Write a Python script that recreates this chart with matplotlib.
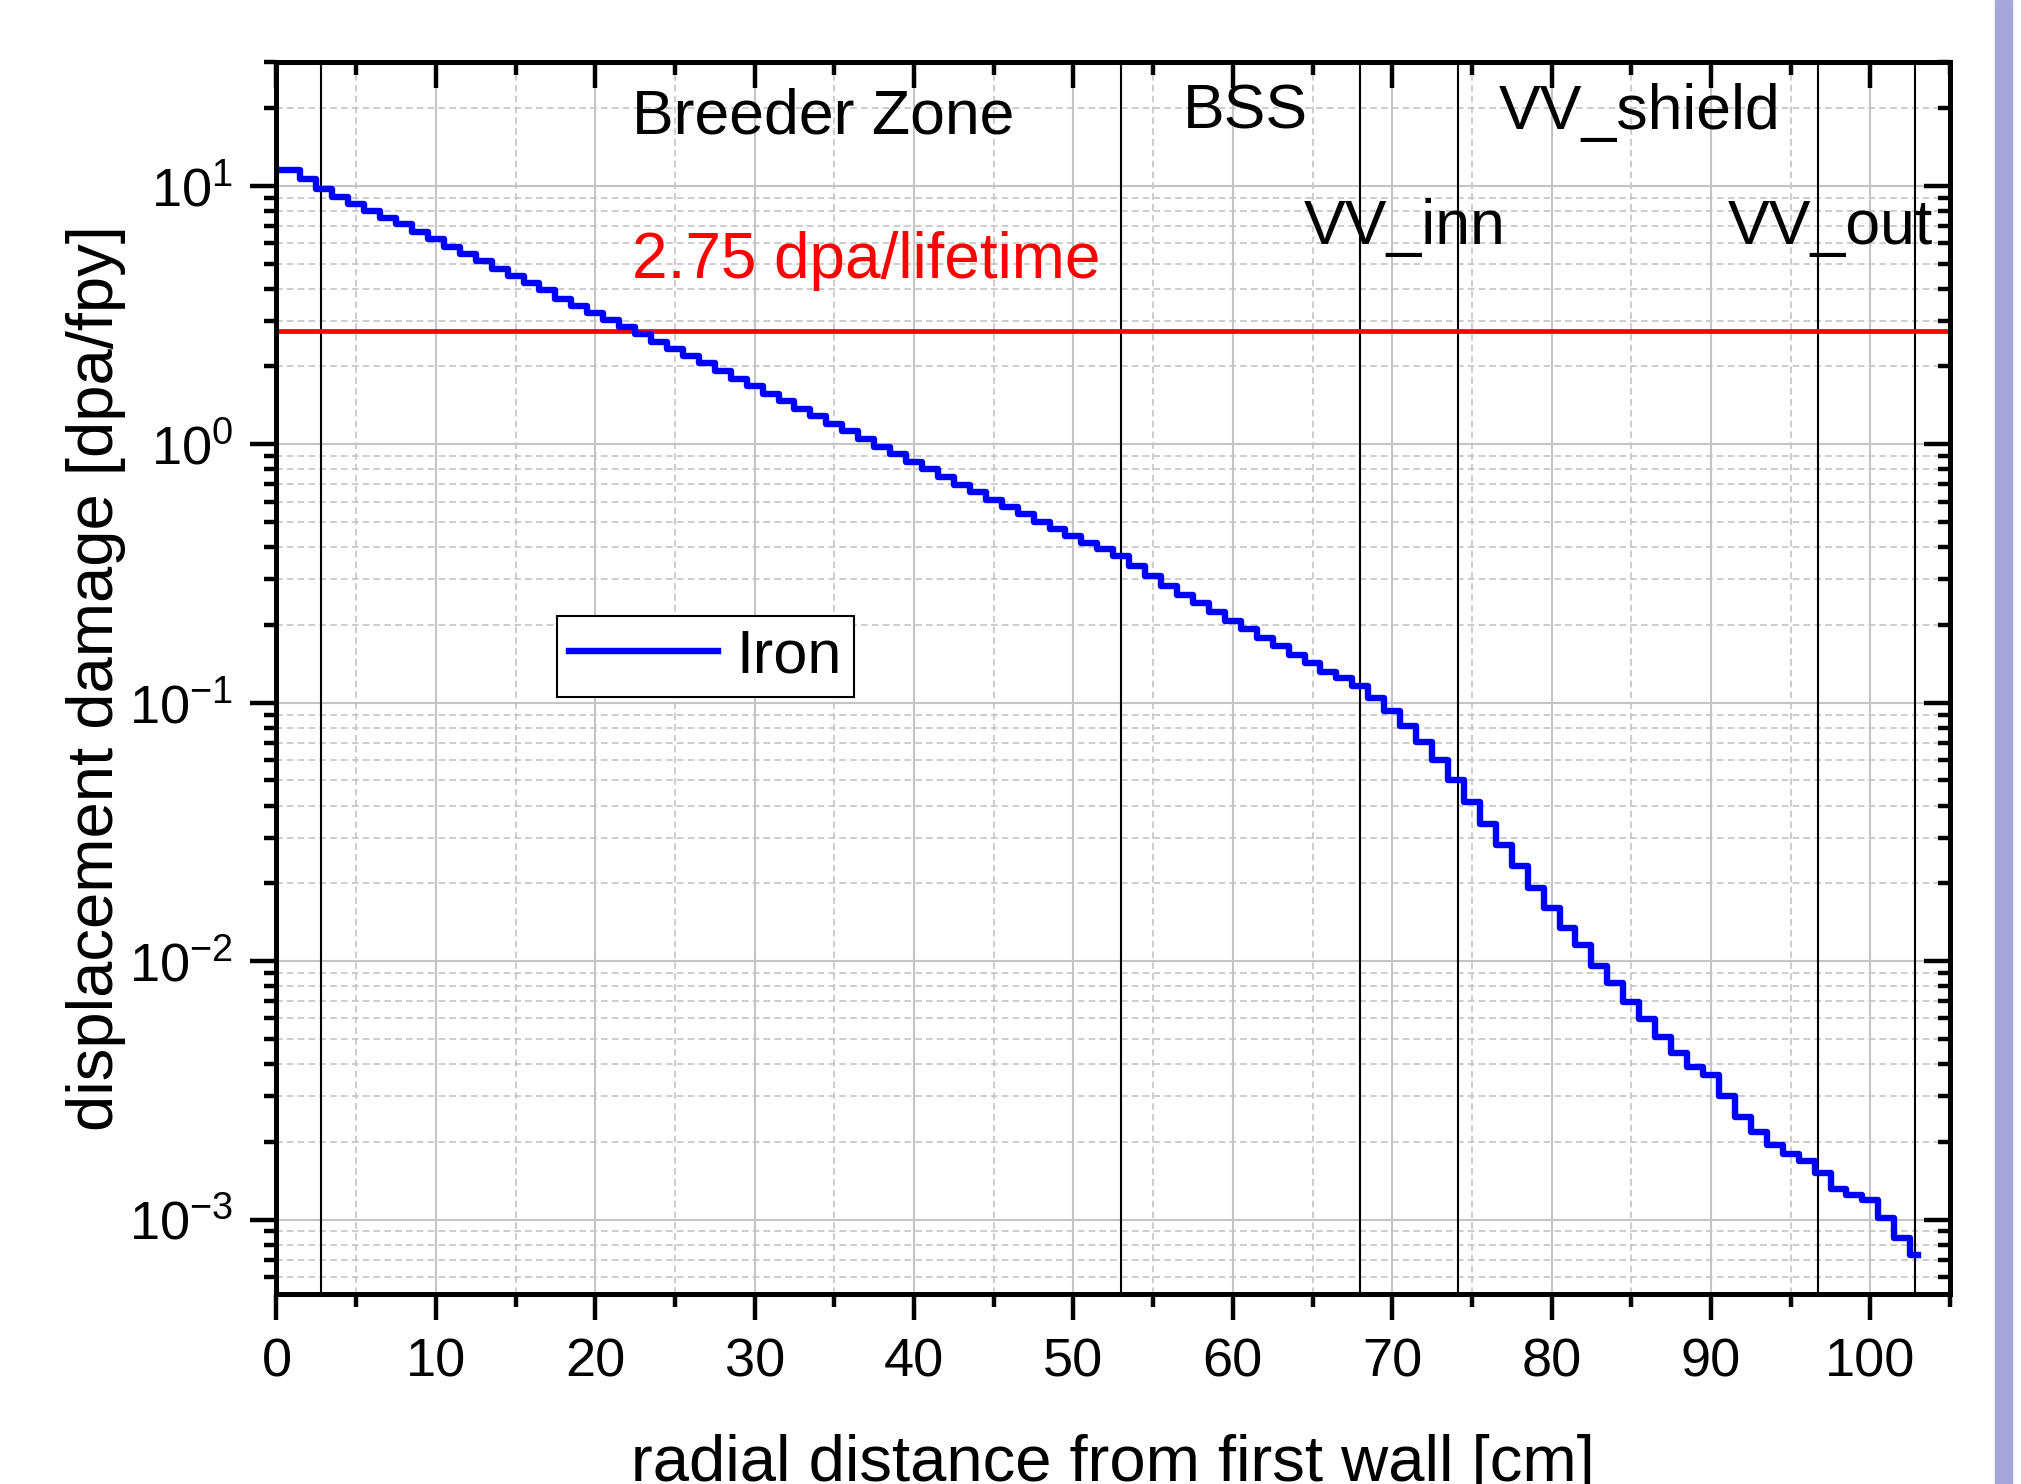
import numpy as np
import matplotlib
matplotlib.use('Agg')
import matplotlib.pyplot as plt
from matplotlib.ticker import MultipleLocator, LogLocator, NullFormatter
from matplotlib.patches import Rectangle

plt.rcParams['font.family'] = ['Liberation Sans', 'DejaVu Sans']
plt.rcParams['mathtext.fontset'] = 'custom'
plt.rcParams['mathtext.rm'] = 'Liberation Sans'
plt.rcParams['mathtext.it'] = 'Liberation Sans:italic'
plt.rcParams['mathtext.bf'] = 'Liberation Sans:bold'

# DATOS: dano por desplazamiento en hierro, un valor por cm
dpa = [11.5, 11.5, 10.6, 9.7, 9.08, 8.47, 7.98, 7.53, 7.10, 6.65,
       6.21, 5.82, 5.46, 5.10, 4.75, 4.48, 4.22, 3.95, 3.66, 3.43,
       3.21, 3.02, 2.85, 2.66, 2.48, 2.33, 2.19, 2.06, 1.92, 1.79,
       1.68, 1.57, 1.47, 1.37, 1.29, 1.20, 1.124, 1.05, 0.978, 0.913,
       0.853, 0.799, 0.748, 0.698, 0.653, 0.611, 0.573, 0.535, 0.499, 0.471,
       0.443, 0.416, 0.392, 0.368, 0.337, 0.310, 0.284, 0.262, 0.242, 0.224,
       0.207, 0.192, 0.178, 0.165, 0.153, 0.1425, 0.132, 0.125, 0.1157, 0.1044,
       0.0927, 0.0815, 0.0705, 0.0602, 0.0504, 0.0411, 0.0340, 0.0282, 0.0233, 0.0192,
       0.0161, 0.0134, 0.01157, 0.00959, 0.00822, 0.00692, 0.00597, 0.00508, 0.00441, 0.00389,
       0.00363, 0.00301, 0.00249, 0.00219, 0.00195, 0.00180, 0.00168, 0.00152, 0.00131, 0.00125,
       0.00119, 0.00101, 0.000847, 0.000730]
radio = np.arange(len(dpa))  # cm desde la primera pared

limite = 2.75  # dpa/lifetime
fronteras = [2.8, 53.0, 68.0, 74.1, 96.7, 102.8]

zonas = ['Breeder Zone', 'BSS', 'VV_shield', 'VV_inn', 'VV_out']
zonas_x = [34.3, 60.8, 85.5, 70.8, 97.5]
zonas_y = [15.9, 16.6, 16.6, 5.95, 5.95]

# GRAFICA
fig = plt.figure(figsize=(20.21, 14.84), dpi=100)
ax = fig.add_axes([0.1368, 0.1280, 0.8281, 0.8299])
ax.set_yscale('log')
ax.set_xlim(0, 105)
ax.set_ylim(5.15e-4, 30)
ax.set_axisbelow(True)

ax.xaxis.set_major_locator(MultipleLocator(10))
ax.xaxis.set_minor_locator(MultipleLocator(5))
ax.yaxis.set_major_locator(LogLocator(base=10))
ax.yaxis.set_minor_locator(LogLocator(base=10, subs=np.arange(2, 10)))
ax.yaxis.set_minor_formatter(NullFormatter())

ax.grid(which='major', color='#c4c4c4', lw=1.5, ls='-')
ax.grid(which='minor', color='#c4c4c4', lw=1.2, ls=(0, (4, 2.5)))

for xf in fronteras:
    ax.axvline(xf, color='black', lw=1.5)
ax.axhline(limite, color='red', lw=3.4)

linea, = ax.step(radio, dpa, where='mid', color='#0000ff', lw=4.6, label='Iron')

for txt, xt, yt in zip(zonas, zonas_x, zonas_y):
    ax.text(xt, yt, txt, fontsize=45, ha='center', va='baseline')
ax.text(37.0, 4.41, '2.75 dpa/lifetime', color='red', fontsize=46,
        ha='center', va='baseline')

leg = ax.legend(handles=[linea], loc='upper left', bbox_to_anchor=(0.1676, 0.5506),
                borderaxespad=0, fancybox=False, edgecolor='black', fontsize=44,
                handlelength=2.44, handletextpad=0.3, borderpad=0.2, framealpha=1)
leg.get_frame().set_linewidth(1.5)

ax.set_xlabel('radial distance from first wall [cm]', fontsize=47, labelpad=34)
ax.set_ylabel('displacement damage [dpa/fpy]', fontsize=47, labelpad=2)

ax.tick_params(which='both', direction='out', top=False, right=False,
               width=3.2, labelsize=39, pad=12)
ax.tick_params(which='major', length=19)
ax.tick_params(which='minor', length=9)

# ticks hacia dentro arriba y a la derecha
axt = ax.twiny()
axt.set_xlim(ax.get_xlim())
axt.xaxis.set_major_locator(MultipleLocator(10))
axt.xaxis.set_minor_locator(MultipleLocator(5))
axt.tick_params(which='both', direction='in', labeltop=False, width=3.2)
axt.tick_params(which='major', length=19)
axt.tick_params(which='minor', length=9)

axr = ax.twinx()
axr.set_yscale('log')
axr.set_ylim(ax.get_ylim())
axr.yaxis.set_major_locator(LogLocator(base=10))
axr.yaxis.set_minor_locator(LogLocator(base=10, subs=np.arange(2, 10)))
axr.tick_params(which='both', direction='in', labelright=False, width=3.2)
axr.tick_params(which='major', length=19)
axr.tick_params(which='minor', length=9)

for a in (ax, axt, axr):
    for s in a.spines.values():
        s.set_linewidth(3.6)

# banda lateral
fig.patches.append(Rectangle((1995 / 2021, 0), 17 / 2021, 1,
                             transform=fig.transFigure, color='#a6a6dc'))

fig.savefig('out.png', dpi=100)
